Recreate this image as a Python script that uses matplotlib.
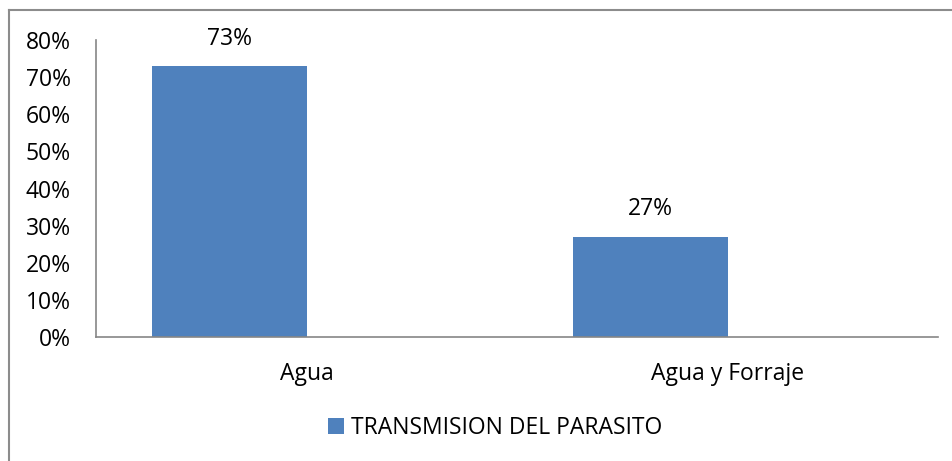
import numpy as np
import matplotlib.pyplot as plt
from matplotlib.lines import Line2D
from matplotlib.ticker import PercentFormatter

# datos
categorias = ['Agua', 'Agua y Forraje']
valores = [0.73, 0.27]
serie = 'TRANSMISION DEL PARASITO'

plt.rcParams['font.family'] = ['Open Sans', 'DejaVu Sans']
fs = 16.5

fig = plt.figure(figsize=(9.52, 4.61), dpi=100)
ax = fig.add_axes([96/952, 1-337/461, (938-96)/952, (337-40)/461])

x = np.arange(len(categorias))
# las barras quedan a la izquierda del centro de cada categoria (estilo Excel)
barras = ax.bar(x, valores, width=-0.366, align='edge', color='#4F81BD', label=serie)
ax.bar_label(barras, labels=['%d%%' % round(v*100) for v in valores],
             padding=11, fontsize=fs, color='black')

ax.set_xlim(-0.5, 1.5)
ax.set_ylim(0, 0.8)
ax.set_yticks(np.arange(0, 0.81, 0.1))
ax.yaxis.set_major_formatter(PercentFormatter(1.0, decimals=0))
ax.set_xticks(x)
ax.set_xticklabels(categorias)
ax.tick_params(axis='y', length=0, pad=18, labelsize=fs)
ax.tick_params(axis='x', length=0, pad=18, labelsize=fs)

for s in ['top', 'right']:
    ax.spines[s].set_visible(False)
for s in ['left', 'bottom']:
    ax.spines[s].set_color('#868686')
    ax.spines[s].set_linewidth(1.2)

fig.legend(loc='center', bbox_to_anchor=(0.52, 1-428/461), frameon=False,
           fontsize=fs, handlelength=0.7, handleheight=0.7, handletextpad=0.3)

# marco del grafico (borde superior e izquierdo)
ytop = 1 - 10.5/461
xleft = 8.5/952
fig.add_artist(Line2D([xleft, 1], [ytop, ytop], transform=fig.transFigure,
                      color='#8c8c8c', linewidth=1.5))
fig.add_artist(Line2D([xleft, xleft], [0, ytop], transform=fig.transFigure,
                      color='#8c8c8c', linewidth=1.5))

fig.savefig('out.png', dpi=100)
